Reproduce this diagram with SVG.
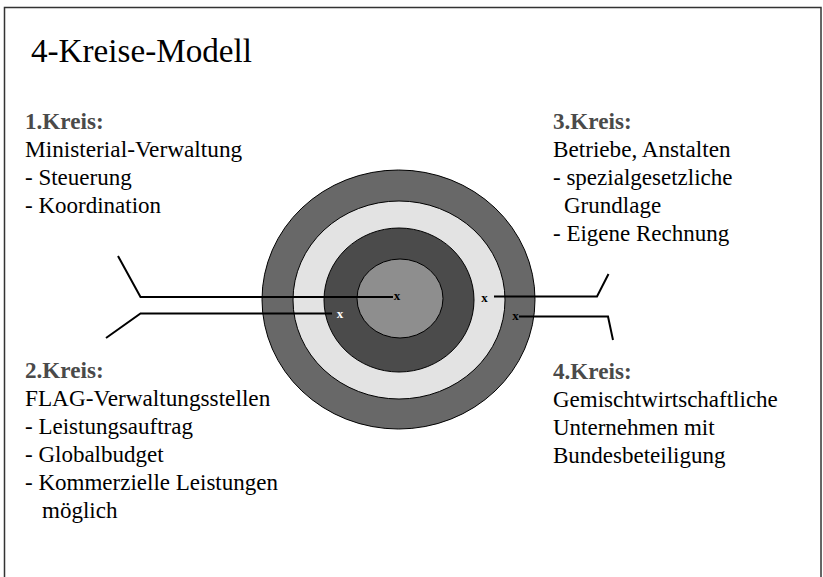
<svg xmlns="http://www.w3.org/2000/svg" width="823" height="577" viewBox="0 0 823 577">
<style>
text{font-family:"Liberation Serif","Times New Roman",Tinos,"DejaVu Serif","Noto Serif",serif}
.t{font-size:23px;fill:#000}
.h{font-size:23px;font-weight:bold;fill:#4a4a4a}
.x{font-size:13px;font-weight:bold;text-anchor:middle}
.ring{stroke:#000;stroke-width:1}
.c{fill:none;stroke:#000;stroke-width:2}
</style>
<rect x="4.5" y="7.5" width="816.5" height="600" fill="#fff" stroke="#333" stroke-width="1.5"/>
<text x="31" y="62" font-size="33" textLength="221" lengthAdjust="spacingAndGlyphs">4-Kreise-Modell</text>
<g id="circles">
<ellipse class="ring" cx="398.5" cy="299.5" rx="136.5" ry="129.5" fill="#686868"/>
<ellipse class="ring" cx="399" cy="300" rx="106" ry="99" fill="#e3e3e3"/>
<ellipse class="ring" cx="399" cy="300" rx="75" ry="72" fill="#4b4b4b"/>
<ellipse class="ring" cx="400" cy="298.5" rx="43" ry="39.5" fill="#8e8e8e"/>
</g>
<g id="connectors">
<polyline class="c" points="118,256 140.5,297 393,297"/>
<polyline class="c" points="106,338 140.5,313.5 332,313.5"/>
<polyline class="c" points="494,296.5 597,296.5 608.5,274"/>
<polyline class="c" points="519,316.5 608,316.5 613,340"/>
</g>
<g id="marks">
<text class="x" x="397" y="300">x</text>
<text class="x" x="340" y="318" fill="#fff">x</text>
<text class="x" x="484.5" y="302">x</text>
<text class="x" x="515.5" y="320">x</text>
</g>
<g id="kreis1">
<text class="h" x="25" y="129" textLength="78.6" lengthAdjust="spacingAndGlyphs">1.Kreis:</text>
<text class="t" x="25" y="157" textLength="217.2" lengthAdjust="spacingAndGlyphs">Ministerial-Verwaltung</text>
<text class="t" x="25" y="185" textLength="106.7" lengthAdjust="spacingAndGlyphs">- Steuerung</text>
<text class="t" x="25" y="213" textLength="136.1" lengthAdjust="spacingAndGlyphs">- Koordination</text>
</g>
<g id="kreis2">
<text class="h" x="25" y="378" textLength="78.6" lengthAdjust="spacingAndGlyphs">2.Kreis:</text>
<text class="t" x="25" y="406" textLength="245.3" lengthAdjust="spacingAndGlyphs">FLAG-Verwaltungsstellen</text>
<text class="t" x="25" y="434" textLength="168" lengthAdjust="spacingAndGlyphs">- Leistungsauftrag</text>
<text class="t" x="25" y="462" textLength="138.6" lengthAdjust="spacingAndGlyphs">- Globalbudget</text>
<text class="t" x="25" y="490" textLength="253" lengthAdjust="spacingAndGlyphs">- Kommerzielle Leistungen</text>
<text class="t" x="42" y="518" textLength="75.4" lengthAdjust="spacingAndGlyphs">möglich</text>
</g>
<g id="kreis3">
<text class="h" x="553" y="129" textLength="78.6" lengthAdjust="spacingAndGlyphs">3.Kreis:</text>
<text class="t" x="553" y="157" textLength="177.6" lengthAdjust="spacingAndGlyphs">Betriebe, Anstalten</text>
<text class="t" x="553" y="185" textLength="179.5" lengthAdjust="spacingAndGlyphs">- spezialgesetzliche</text>
<text class="t" x="564" y="213" textLength="97.1" lengthAdjust="spacingAndGlyphs">Grundlage</text>
<text class="t" x="553" y="241" textLength="176.3" lengthAdjust="spacingAndGlyphs">- Eigene Rechnung</text>
</g>
<g id="kreis4">
<text class="h" x="553" y="379" textLength="78.6" lengthAdjust="spacingAndGlyphs">4.Kreis:</text>
<text class="t" x="553" y="407" textLength="224.8" lengthAdjust="spacingAndGlyphs">Gemischtwirtschaftliche</text>
<text class="t" x="553" y="435" textLength="161.6" lengthAdjust="spacingAndGlyphs">Unternehmen mit</text>
<text class="t" x="553" y="463" textLength="172.5" lengthAdjust="spacingAndGlyphs">Bundesbeteiligung</text>
</g>
</svg>
